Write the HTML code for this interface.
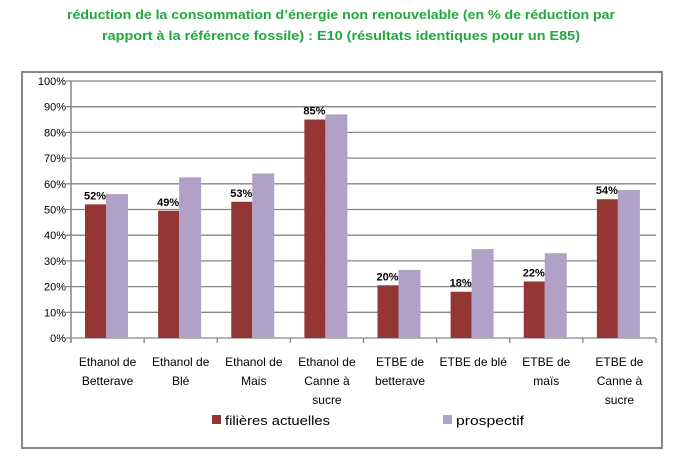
<!DOCTYPE html>
<html><head><meta charset="utf-8"><style>
body{margin:0;background:#fff;}
svg{display:block;font-family:"Liberation Sans",sans-serif;}
</style></head><body>
<svg id="chart" width="679" height="456" viewBox="0 0 679 456">
<text x="341" y="19" text-anchor="middle" font-size="13" font-weight="bold" fill="#1fa83c" textLength="548" lengthAdjust="spacingAndGlyphs">réduction de la consommation d’énergie non renouvelable (en % de réduction par</text>
<text x="341" y="40" text-anchor="middle" font-size="13" font-weight="bold" fill="#1fa83c" textLength="478" lengthAdjust="spacingAndGlyphs">rapport à la référence fossile) : E10 (résultats identiques pour un E85)</text>
<rect x="22" y="72" width="640" height="376" fill="none" stroke="#868686" stroke-width="2"/>
<g id="grid"></g><g id="bars"></g><g id="labels"></g>
<g>
<rect x="212" y="415" width="9" height="9" fill="#943634"/>
<text x="225" y="425" font-size="13" fill="#000" textLength="105" lengthAdjust="spacingAndGlyphs">filières actuelles</text>
<rect x="443" y="415" width="9" height="9" fill="#b2a1c7"/>
<text x="456" y="425" font-size="13" fill="#000" textLength="68" lengthAdjust="spacingAndGlyphs">prospectif</text>
</g>
</svg>
<script>
const categories=[["Ethanol de","Betterave"],["Ethanol de","Blé"],["Ethanol de","Mais"],["Ethanol de","Canne à","sucre"],["ETBE de","betterave"],["ETBE de blé"],["ETBE de","maïs"],["ETBE de","Canne à","sucre"]];
const actuelles=[52,49.5,53,85,20.5,18,22,54];
const actuellesLabels=["52%","49%","53%","85%","20%","18%","22%","54%"];
const prospectif=[56,62.5,64,87,26.5,34.6,33,57.6];
const yTicks=[0,10,20,30,40,50,60,70,80,90,100];
const NS="http://www.w3.org/2000/svg";
const L=71,R=656,Y0=338,Y100=81;
const y=v=>Y0-(v/100)*(Y0-Y100);
const bw=(R-L)/categories.length;
const x=i=>L+i*bw;
function mk(t,a,p){const e=document.createElementNS(NS,t);for(const k in a)e.setAttribute(k,a[k]);p.appendChild(e);return e;}
const grid=document.getElementById('grid'),bars=document.getElementById('bars'),labels=document.getElementById('labels');
yTicks.forEach(t=>{
 const l=mk('line',{x1:L-5,x2:R,y1:y(t),y2:y(t),stroke:'#868686','stroke-width':1.3},grid);
 
 
 const tx=mk('text',{x:L-5,y:y(t)+4,'text-anchor':'end','font-size':11,fill:'#000'},labels);
 tx.textContent=t+'%';
 
 
});
const ax=mk('line',{x1:L,x2:L,y1:Y100,y2:Y0+5,stroke:'#868686','stroke-width':1.5},grid);


for(let i=0;i<=categories.length;i++){
 const tk=mk('line',{x1:x(i),x2:x(i),y1:Y0,y2:Y0+5,stroke:'#868686','stroke-width':1.3},grid);
 
 
}
categories.forEach((c,i)=>{
 const b1=mk('rect',{x:x(i)+14,y:y(actuelles[i]),width:21,height:Y0-y(actuelles[i]),fill:'#943634'},bars);
 
 
 const b2=mk('rect',{x:x(i)+35,y:y(prospectif[i]),width:22,height:Y0-y(prospectif[i]),fill:'#b2a1c7'},bars);
 
 
 const v=mk('text',{x:x(i)+24,y:y(actuelles[i])-5,'text-anchor':'middle','font-size':11,'font-weight':'bold',fill:'#000'},labels);
 v.textContent=actuellesLabels[i];
 
 
 c.forEach((ln,j)=>{
  const t=mk('text',{x:x(i)+bw/2,y:366+j*19,'text-anchor':'middle','font-size':12,fill:'#000'},labels);
  t.textContent=ln;
  
  
 });
});
</script>
</body></html>
